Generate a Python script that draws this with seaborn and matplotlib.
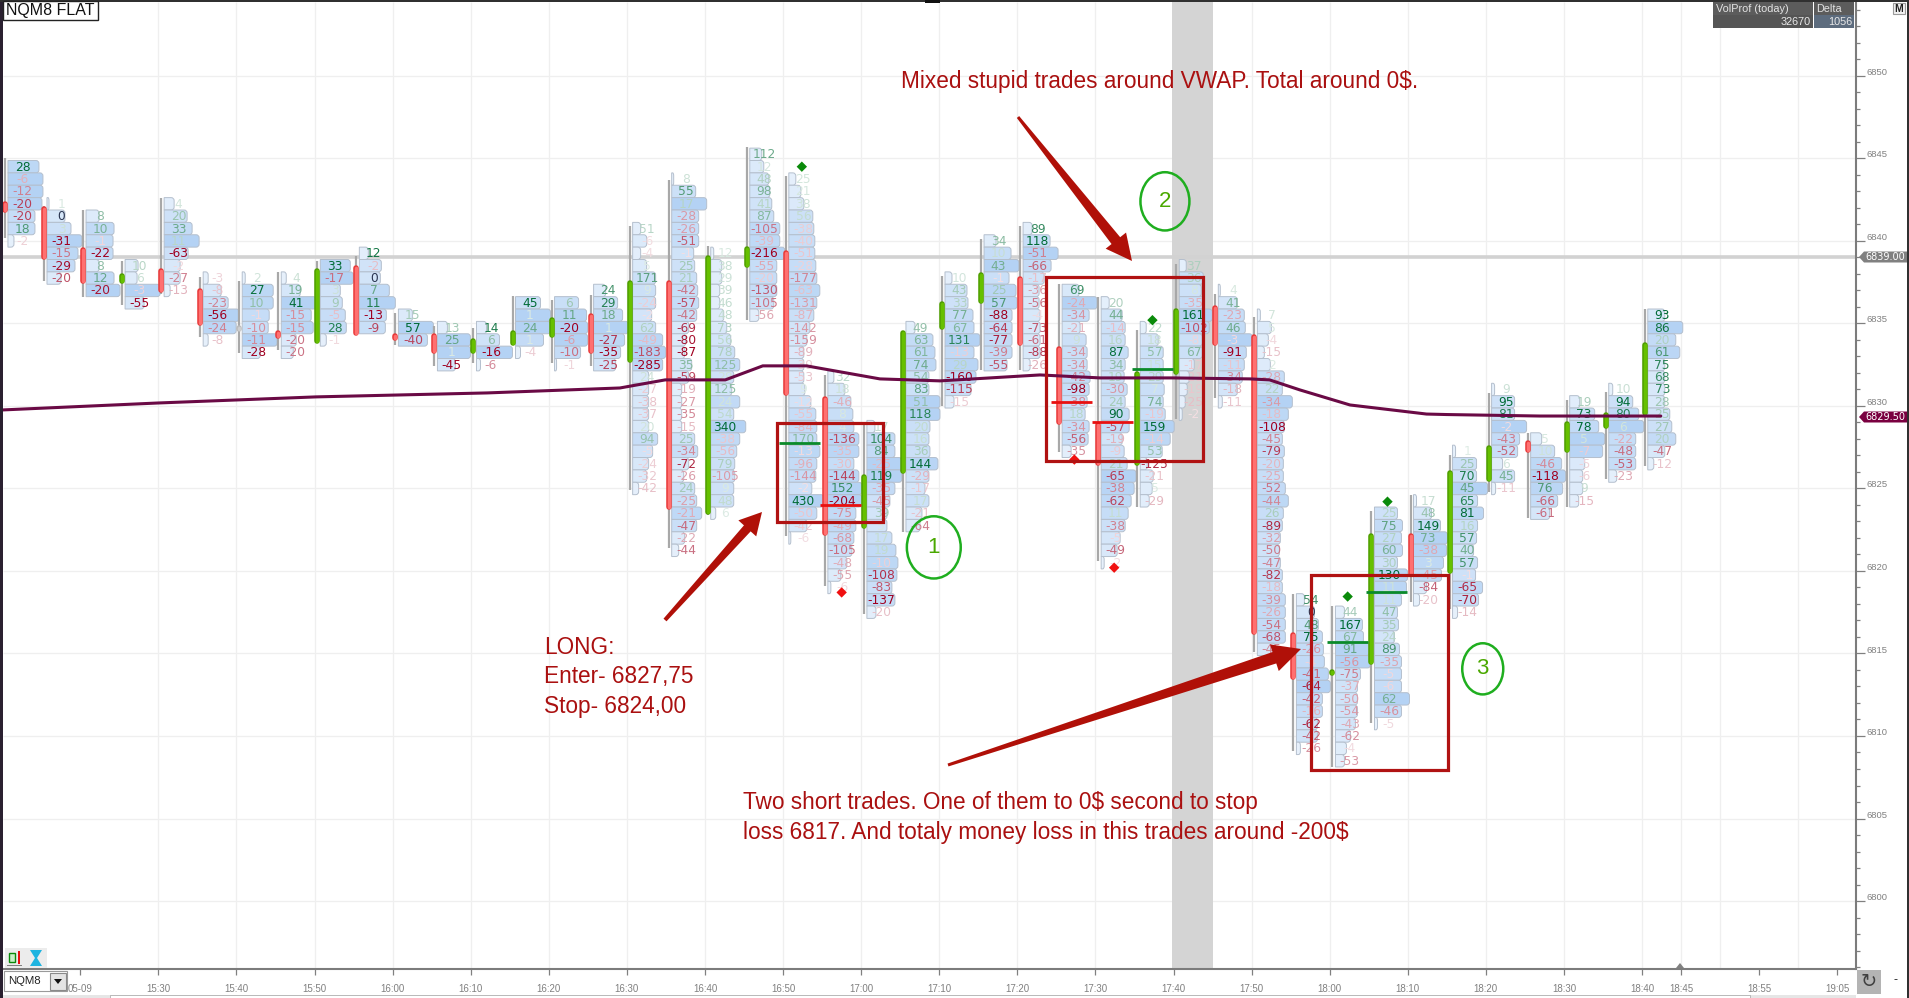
import numpy as np
import pandas as pd
import matplotlib
matplotlib.use('Agg')
import matplotlib.pyplot as plt
from matplotlib.path import Path
from matplotlib.patches import PathPatch, Rectangle, Ellipse, Polygon
import seaborn as sns

# 5 minute bars, minutes counted from 16:00
bar_minutes = list(range(-50, 165, 5))

# price of the first row in each bar
bar_tops = [6844.5, 6842.25, 6841.5, 6838.5, 6842.25, 6837.75, 6837.75, 6837.75, 6838.5, 6839.25, 6835.5,
            6834.75, 6834.75, 6836.25, 6836.25, 6837.0, 6840.75, 6843.75, 6839.25, 6845.25, 6843.75, 6831.75,
            6828.75, 6834.75, 6837.75, 6840.0, 6840.75, 6837.0, 6836.25, 6834.75, 6838.5, 6837.0, 6835.5,
            6818.25, 6817.5, 6823.5, 6824.25, 6827.25, 6831.0, 6828.0, 6830.25, 6831.0, 6835.5]

bar_open = [6842.4, 6842.1, 6839.6, 6837.4, 6838.3, 6837.1, 6834.9, 6834.6, 6833.8, 6838.5, 6834.4,
            6834.4, 6833.2, 6833.65, 6834.15, 6835.6, 6832.65, 6837.6, 6823.4, 6838.4, 6839.4, 6830.55,
            6822.6, 6825.9, 6834.66, 6836.2, 6837.86, 6833.6, 6829.0, 6826.4, 6831.9, 6836.1, 6834.36,
            6816.3, 6813.65, 6814.36, 6822.3, 6819.87, 6825.4, 6827.9, 6827.16, 6828.65, 6829.45]
bar_close = [6841.7, 6838.9, 6837.4, 6838.05, 6836.9, 6834.9, 6834.5, 6834.1, 6838.3, 6834.3, 6833.95,
             6833.2, 6834.1, 6834.6, 6835.37, 6833.2, 6837.6, 6823.7, 6839.1, 6839.65, 6830.65, 6822.15,
             6825.85, 6834.56, 6836.34, 6838.1, 6833.67, 6828.9, 6826.4, 6832.1, 6835.88, 6833.67, 6816.14,
             6813.4, 6814.05, 6822.3, 6819.67, 6826.07, 6827.6, 6827.16, 6829.05, 6829.6, 6833.87]
bar_high = [6845.0, 6842.1, 6841.9, 6838.8, 6842.6, 6837.8, 6837.6, 6838.1, 6838.8, 6839.1, 6835.65,
            6834.86, 6834.75, 6836.65, 6836.4, 6836.75, 6840.9, 6843.7, 6839.7, 6845.7, 6843.95, 6831.9,
            6828.85, 6834.56, 6837.9, 6840.1, 6840.9, 6837.4, 6836.6, 6834.6, 6838.6, 6836.8, 6835.4,
            6818.6, 6817.85, 6823.64, 6824.6, 6827.0, 6830.8, 6828.34, 6830.36, 6830.87, 6835.88]
bar_low = [6840.2, 6837.6, 6836.6, 6836.1, 6836.8, 6834.2, 6833.2, 6833.4, 6833.8, 6834.3, 6833.7,
           6832.4, 6832.6, 6833.7, 6832.6, 6832.4, 6824.9, 6821.4, 6823.4, 6835.2, 6822.15, 6819.1,
           6817.4, 6822.35, 6830.0, 6832.2, 6832.2, 6827.2, 6820.6, 6823.9, 6829.2, 6830.5, 6815.06,
           6809.1, 6808.1, 6810.8, 6818.1, 6817.7, 6824.8, 6823.2, 6823.9, 6825.6, 6826.37]

# delta printed in every row of every bar
bar_deltas = [
    [28, -6, -12, -20, -20, 18, -2],
    [1, 0, 3, -31, -15, -29, -20],
    [8, 10, -1, -22, 8, 12, -20],
    [10, 6, -3, -55],
    [4, 20, 33, 11, -63, -2, -27, -13],
    [-3, -8, -23, -56, -24, -8],
    [2, 27, 10, -1, -10, -11, -28],
    [4, 19, 41, -15, -15, -20, -20],
    [33, -17, 3, 9, -5, 28, -1],
    [12, -2, 0, 7, 11, -13, -9],
    [15, 57, -40],
    [13, 25, 1, -45],
    [14, 6, -16, -6],
    [45, 1, 24, 1, -4],
    [6, 11, -20, -6, -10, -1],
    [24, 29, 18, 1, -27, -35, -25],
    [51, -6, -4, 5, 171, 9, -24, -2, 62, -49, -183, -285, 24, -27, -38, -37, 20, 94, -5, -24, -32, -42],
    [8, 55, 17, -28, -26, -51, -1, 25, 21, -42, -57, -42, -69, -80, -87, 35, -59, -19, -27, -35, -15, 25,
     -34, -72, -26, 24, -25, -21, -47, -22, -44],
    [12, 38, 29, 39, 46, 48, 73, 56, 78, 125, 28, 125, 24, 54, 340, -38, -56, 79, -105, 9, 48, 6],
    [112, 12, 48, 98, 41, 87, -105, -39, -216, -55, -20, -130, -105, -56],
    [25, 21, 38, 56, -38, -40, -51, -28, -177, -63, -131, -87, -142, -159, -89, -39, -53, 9, -12, -55, -84,
     170, -13, -96, -144, -2, 430, -50, -42, -6],
    [32, 18, -46, 8, 4, -136, -35, -30, -144, 152, -204, -75, -49, -68, -105, -48, -55, -6],
    [17, 104, 84, -25, 119, -35, -45, 39, 5, 17, 19, -10, -108, -83, -137, -20],
    [49, 63, 61, 74, 54, 83, 51, 118, 20, 16, 36, 144, -29, -17, 17, -21, -64],
    [10, 43, 33, 77, 67, 131, -13, 29, -160, -115, -15],
    [34, 10, 43, -1, 25, 57, -88, -64, -77, -39, -55],
    [89, 118, -51, -66, -17, -36, -56, -4, -73, -61, -88, -26],
    [69, -24, -34, -21, 9, -34, -34, -42, -98, -38, 18, -34, -56, -35],
    [20, 44, -14, 16, 87, 34, 19, -30, 24, 90, -57, -19, -9, 21, -65, -38, -62, 11, -38, -5, -49, -2],
    [22, 18, 57, 15, 29, 7, 74, -19, 159, -14, 53, -125, -21, 5, -29],
    [37, 36, 8, -35, 161, -102, -8, 67, -17, -21, -19, -25, -2],
    [4, 41, -23, 46, -3, -91, -11, -34, -18, -11],
    [7, 5, -4, -15, 2, -28, 22, -34, -18, -108, -45, -79, -20, -25, -52, -44, 26, -89, -32, -50, -47, -82,
     -18, -39, -26, -54, -68, -45],
    [54, 0, 48, 75, -26, -4, -41, -64, -42, -16, -62, -42, -26],
    [44, 167, 67, 91, -56, -75, -37, -50, -54, -43, -62, -4, -53],
    [25, 75, 27, 60, 30, 130, 11, 11, 47, 35, 24, 89, -35, -5, -6, 62, -46, -5],
    [17, 48, 149, 73, -38, 3, -45, -84, -20],
    [1, 25, 70, 45, 65, 81, 16, 57, 40, 57, -1, -65, -70, -14],
    [9, 95, 81, -2, -43, -52, 6, 45, -11],
    [5, 10, -46, -118, 76, -66, -61],
    [19, 73, 78, 5, -7, -5, -6, 9, -15],
    [10, 94, 80, 6, -22, -48, -53, -23],
    [93, 86, 20, 61, 75, 68, 73, 28, 25, 27, 20, -47, -12],
]

# relative volume of every row, as read from the length of the profile cells
bar_volumes = [
    [31, 35, 35, 34, 27, 27, 6],
    [2, 18, 24, 35, 31, 28, 14],
    [13, 28, 27, 27, 13, 28, 34],
    [13, 12, 35, 19],
    [10, 23, 28, 35, 24, 16, 16, 6],
    [5, 18, 25, 36, 33, 5],
    [3, 31, 31, 27, 26, 35, 18],
    [5, 19, 35, 30, 32, 15, 12],
    [30, 33, 20, 22, 25, 26, 6],
    [9, 22, 21, 30, 36, 27, 26],
    [14, 35, 29],
    [10, 33, 33, 18],
    [10, 23, 36, 4],
    [25, 35, 35, 28, 5],
    [24, 32, 33, 33, 26, 2],
    [12, 24, 29, 35, 31, 27, 22],
    [8, 14, 8, 14, 23, 23, 23, 19, 23, 30, 33, 30, 16, 16, 16, 16, 16, 25, 20, 16, 14, 6],
    [2, 24, 35, 27, 27, 27, 22, 23, 25, 26, 27, 25, 17, 14, 13, 20, 17, 10, 10, 10, 10, 23, 26, 17, 12, 23,
     25, 30, 25, 13, 7],
    [3, 11, 11, 9, 9, 13, 16, 20, 24, 29, 23, 21, 29, 23, 35, 29, 26, 24, 24, 23, 23, 5],
    [12, 14, 19, 20, 22, 24, 30, 30, 35, 27, 27, 27, 24, 9],
    [7, 12, 15, 24, 25, 26, 26, 27, 28, 31, 28, 25, 21, 18, 15, 15, 15, 16, 22, 27, 28, 28, 31, 28, 27, 23,
     35, 28, 18, 2],
    [6, 17, 23, 25, 26, 31, 31, 26, 31, 34, 34, 28, 28, 26, 24, 19, 13, 3],
    [8, 28, 28, 35, 35, 28, 23, 20, 20, 25, 29, 31, 30, 25, 28, 9],
    [9, 27, 29, 30, 23, 23, 34, 34, 24, 23, 24, 32, 23, 19, 23, 16, 14],
    [7, 22, 23, 28, 29, 35, 29, 33, 31, 26, 9],
    [12, 27, 35, 25, 32, 33, 28, 28, 28, 28, 23],
    [9, 27, 35, 28, 21, 16, 16, 17, 17, 17, 17, 7],
    [17, 35, 27, 18, 24, 25, 25, 28, 27, 25, 23, 27, 26, 9],
    [8, 21, 24, 24, 27, 24, 23, 26, 24, 28, 28, 21, 23, 26, 35, 33, 30, 27, 24, 19, 16, 3],
    [6, 18, 23, 23, 23, 24, 23, 25, 34, 30, 22, 7, 13, 12, 9],
    [7, 24, 22, 25, 33, 30, 23, 23, 15, 10, 8, 6, 3],
    [2, 19, 26, 27, 34, 28, 26, 24, 19, 4],
    [3, 14, 11, 7, 13, 27, 25, 35, 31, 27, 25, 27, 26, 26, 28, 31, 26, 25, 23, 22, 23, 25, 25, 28, 28, 28,
     28, 18],
    [8, 18, 22, 26, 27, 28, 32, 34, 26, 26, 21, 21, 4],
    [9, 27, 28, 34, 35, 25, 22, 22, 22, 20, 15, 11, 9],
    [23, 28, 27, 28, 23, 33, 32, 27, 23, 24, 20, 25, 27, 27, 27, 35, 27, 3],
    [3, 18, 27, 34, 33, 30, 28, 13, 6],
    [3, 24, 24, 35, 25, 31, 25, 24, 21, 25, 23, 30, 26, 5],
    [3, 23, 23, 35, 28, 26, 11, 23, 4],
    [11, 24, 31, 35, 32, 27, 19],
    [10, 25, 29, 35, 33, 15, 13, 13, 9],
    [4, 24, 30, 35, 27, 27, 27, 8],
    [17, 35, 28, 32, 17, 17, 17, 17, 22, 24, 28, 17, 6],
]

vwap_minutes = [-49.9, -30.05, -9.8, 12.1, 29.1, 34.9, 42.6, 47.4, 53.0, 62.4, 70.1, 82.9, 90.6, 99.9, 109.8,
                112.3, 116.2, 122.6, 132.4, 135.0, 146.9, 162.4]
vwap_prices = [6829.76, 6830.18, 6830.55, 6830.79, 6831.09, 6831.58, 6831.58, 6832.43, 6832.43, 6831.64,
               6831.52, 6831.88, 6831.7, 6831.7, 6831.64, 6831.58, 6830.97, 6830.06, 6829.51, 6829.48,
               6829.39, 6829.39]

signal_minutes = [52.4, 57.5, 87.3, 92.4, 97.3, 127.4, 122.3]
signal_prices = [6844.5, 6818.7, 6826.75, 6820.2, 6835.2, 6824.2, 6818.45]
signal_kinds = ['up', 'down', 'down', 'down', 'up', 'up', 'up']

# entry ticks next to the bars: start minute, price, colour key
entry_minutes = [49.5, 54.7, 84.3, 89.6, 94.7, 119.6, 124.6]
entry_prices = [6827.77, 6824.0, 6830.26, 6829.0, 6832.25, 6815.7, 6818.7]
entry_sides = ['g', 'r', 'r', 'r', 'g', 'g', 'g']

tick_minutes = [-40, -30, -20, -10, 0, 10, 20, 30, 40, 50, 60, 70, 80, 90, 100, 110, 120, 130, 140, 150, 160,
                165, 175, 185]
tick_labels = ['05-09', '15:30', '15:40', '15:50', '16:00', '16:10', '16:20', '16:30', '16:40', '16:50', '17:00',
               '17:10', '17:20', '17:30', '17:40', '17:50', '18:00', '18:10', '18:20', '18:30', '18:40',
               '18:45', '18:55', '19:05']
grid_minutes = [-30, -20, -10, 0, 10, 20, 30, 40, 50, 60, 70, 80, 90, 100, 110, 120, 130, 140, 150, 160, 165,
                170, 180]
price_labels = [6800, 6805, 6810, 6815, 6820, 6825, 6830, 6835, 6840, 6845, 6850]

box_minutes = [(49.2, 62.8), (83.65, 103.75), (117.6, 135.1)]
box_prices = [(6822.95, 6828.97), (6826.66, 6837.84), (6807.93, 6819.73)]

circle_minutes = [69.3, 98.9, 139.6]
circle_prices = [6821.43, 6842.4, 6814.07]
circle_widths = [6.9, 6.27, 5.25]
circle_heights = [3.77, 3.53, 3.1]
circle_labels = ['1', '2', '3']

W, H = 1909, 998
X_PER_PX = 1 / 7.81
Y_PER_PX = 1 / 16.5
RED_NOTE = '#aa1010'
NOTE_SIZE = 16.3

sns.set_theme(style='white')
plt.rcParams['font.family'] = ['Liberation Sans', 'DejaVu Sans']

fig = plt.figure(figsize=(W / 100, H / 100), dpi=100, facecolor='white')
ax = fig.add_axes([3 / W, 1 - 969 / H, (1856 - 3) / W, (969 - 2) / H])
ax.set_xlim(-49.9, 187.4)
ax.set_ylim(6795.88, 6854.48)
ax.set_facecolor('white')


def fx(px):
    return px / W


def fy(py):
    return 1 - py / H


def blend(color, amount):
    c = np.array(matplotlib.colors.to_rgb(color))
    return tuple(1 - (1 - c) * amount)


def cell_path(left, right, top, bottom):
    # square on the left, rounded on the right
    rx = min(3 * X_PER_PX, (right - left) / 2)
    ry = 3 * Y_PER_PX
    verts = [(left, bottom), (right - rx, bottom), (right, bottom), (right, bottom + ry), (right, top - ry),
             (right, top), (right - rx, top), (left, top), (left, bottom)]
    codes = [Path.MOVETO, Path.LINETO, Path.CURVE3, Path.CURVE3, Path.LINETO, Path.CURVE3, Path.CURVE3,
             Path.LINETO, Path.CLOSEPOLY]
    return Path(verts, codes)


# background: grid, grey band, old VWAP level
ax.vlines(grid_minutes, 6795.88, 6854.48, color='#efefef', lw=0.9, zorder=0.5)
ax.hlines(price_labels, -49.9, 187.4, color='#efefef', lw=0.9, zorder=0.5)
ax.axvspan(99.8, 105, color='#d4d4d4', lw=0, zorder=0.7)
ax.hlines(6839, -49.9, 187.4, color='#d2d2d2', lw=2.6, zorder=0.8)

# footprint cells
for minute, top, deltas, volumes in zip(bar_minutes, bar_tops, bar_deltas, bar_volumes):
    left = minute + 0.35 + 3 * X_PER_PX
    widest = max(volumes)
    largest = max(abs(d) for d in deltas)
    for row, (delta, volume) in enumerate(zip(deltas, volumes)):
        price = top - 0.75 * row
        share = volume / widest
        fill = blend('#b4d2f4', 0.3 + 0.7 * share ** 1.6)
        ax.add_patch(PathPatch(cell_path(left, left + volume * X_PER_PX, price + 0.375, price - 0.375),
                               facecolor=fill, edgecolor='#b4bfcd', lw=0.7, zorder=2))
        strength = 0.12 + 0.88 * abs(delta) / largest
        if delta > 0:
            color = blend('#006b35', strength)
        elif delta < 0:
            color = blend('#a00020', strength)
        else:
            color = '#2a3550'
        ax.text(minute + 0.35 + 17.5 * X_PER_PX, price - 0.03, str(delta), color=color, fontsize=8.8, ha='center',
                va='center', family='DejaVu Sans', zorder=3)

# wicks and candle bodies
candle_x = np.array(bar_minutes) + 0.35
ax.vlines(candle_x, bar_low, bar_high, color='#a8a8a8', lw=1.6, zorder=3.2)
for x, o, c in zip(candle_x, bar_open, bar_close):
    if abs(o - c) < 0.45 and x == candle_x[6]:
        edge, body = '#bcbcbc', '#cfcfcf'
    elif c >= o:
        edge, body = '#4f9f00', '#66c000'
    else:
        edge, body = '#e83a3a', '#ff7070'
    inset = 2.5 * Y_PER_PX
    lo, hi = min(o, c) + inset, max(o, c) - inset
    if hi < lo:
        lo = hi = (o + c) / 2
    ax.vlines(x, lo, hi, color=edge, lw=4.0, capstyle='round', zorder=3.4)
    ax.vlines(x, lo, hi, color=body, lw=2.5, capstyle='round', zorder=3.5)

# VWAP
vwap = pd.DataFrame({'minute': vwap_minutes, 'price': vwap_prices})
sns.lineplot(data=vwap, x='minute', y='price', color='#6a0a45', lw=2.2, ax=ax, zorder=4, legend=False,
             errorbar=None, estimator=None)

# signal diamonds
signals = pd.DataFrame({'minute': signal_minutes, 'price': signal_prices, 'kind': signal_kinds})
sns.scatterplot(data=signals, x='minute', y='price', hue='kind', palette={'up': '#0a8a0a', 'down': '#f01010'},
                marker='D', s=28, linewidth=0, ax=ax, zorder=4.5, legend=False)

# entry ticks
for start, price, side in zip(entry_minutes, entry_prices, entry_sides):
    ax.hlines(price, start, start + 5.25, color='#0a8a2a' if side == 'g' else '#e81010', lw=2.0, zorder=4.6)

# note boxes
for (x0, x1), (y0, y1) in zip(box_minutes, box_prices):
    ax.add_patch(Rectangle((x0, y0), x1 - x0, y1 - y0, fill=False, edgecolor='#b01212', lw=2.3, zorder=5))

for x, y, w, h, label_text in zip(circle_minutes, circle_prices, circle_widths, circle_heights, circle_labels):
    ax.add_patch(Ellipse((x, y), w, h, fill=False, edgecolor='#1fae1f', lw=1.8, zorder=5))
    ax.text(x, y, label_text, color='#4aa800', fontsize=16, ha='center', va='center', zorder=5)

# axes and ticks
ax.set_xlabel('')
ax.set_ylabel('')
ax.set_xticks(tick_minutes)
ax.set_xticklabels(tick_labels)
ax.yaxis.tick_right()
ax.yaxis.set_major_locator(matplotlib.ticker.MultipleLocator(5))
ax.yaxis.set_minor_locator(matplotlib.ticker.MultipleLocator(1))
ax.tick_params(axis='x', which='major', bottom=True, length=4, width=0.9, color='#808080', labelcolor='#808080',
               labelsize=7, pad=7)
ax.tick_params(axis='y', which='major', right=True, length=6.5, width=0.9, color='#808080', labelright=False)
ax.tick_params(axis='y', which='minor', right=True, length=3, width=0.9, color='#808080')
# the price labels sit a little above their ticks
for price in price_labels:
    ax.annotate(str(price), xy=(1, price), xycoords=('axes fraction', 'data'), xytext=(7.8, 2.5),
                textcoords='offset points', va='center', ha='left', color='#808080', fontsize=6.8,
                annotation_clip=False)
for side in ['top', 'left']:
    ax.spines[side].set_visible(False)
for side in ['right', 'bottom']:
    ax.spines[side].set_color('#7c7c7c')
    ax.spines[side].set_linewidth(1.5)


def box(x0, y0, x1, y1, **kw):
    fig.add_artist(Rectangle((fx(x0), fy(y1)), (x1 - x0) / W, (y1 - y0) / H, transform=fig.transFigure, **kw))


def label(x, y, text, **kw):
    kw.setdefault('va', 'center')
    fig.text(fx(x), fy(y), text, **kw)


def arrow(tail, tip, tail_w, neck_w, head_w, head_len):
    tail, tip = np.array(tail, float), np.array(tip, float)
    d = (tip - tail) / np.linalg.norm(tip - tail)
    n = np.array([-d[1], d[0]])
    neck = tip - d * head_len
    pts = [tail + n * tail_w / 2, neck + n * neck_w / 2, neck + n * head_w / 2, tip,
           neck - n * head_w / 2, neck - n * neck_w / 2, tail - n * tail_w / 2]
    pts = [(fx(p[0]), fy(p[1])) for p in pts]
    fig.add_artist(Polygon(pts, closed=True, transform=fig.transFigure, facecolor='#b01008', edgecolor='none'))


arrow((665, 620), (762, 512), 4, 9, 24, 22)
arrow((1018, 117), (1132, 261), 3, 11, 26, 26)
arrow((948, 765), (1301, 649), 3, 12, 28, 28)

# notes
label(901, 81.5, 'Mixed stupid trades around VWAP. Total around 0$.', color=RED_NOTE, fontsize=NOTE_SIZE)
label(544, 647, 'LONG:', color=RED_NOTE, fontsize=NOTE_SIZE)
label(544, 677, 'Enter- 6827,75', color=RED_NOTE, fontsize=NOTE_SIZE)
label(544, 707, 'Stop- 6824,00', color=RED_NOTE, fontsize=NOTE_SIZE)
label(743, 803, 'Two short trades. One of them to 0$ second to stop', color=RED_NOTE, fontsize=NOTE_SIZE)
label(743, 832, 'loss 6817. And totaly money loss in this trades around -200$', color=RED_NOTE, fontsize=NOTE_SIZE)

# price flags on the right
for y, text, color in [(257, '6839.00', '#808080'), (417, '6829.50', '#7a0040')]:
    fig.add_artist(Polygon([(fx(1859), fy(y)), (fx(1864), fy(y - 5.5)), (fx(1907), fy(y - 5.5)),
                            (fx(1907), fy(y + 5.5)), (fx(1864), fy(y + 5.5))], closed=True,
                           transform=fig.transFigure, facecolor=color, edgecolor='none'))
    label(1885.5, y, text, color='white', fontsize=7, ha='center', family='DejaVu Sans')

# window chrome
box(0, 0, 3, H, facecolor='#2a2030', edgecolor='none')
box(0, 0, W, 1.5, facecolor='#303030', edgecolor='none')
box(1907, 0, W, H, facecolor='#303030', edgecolor='none')
box(925, 0, 940, 2.5, facecolor='#111111', edgecolor='none')
box(3, 1, 98, 20, facecolor='white', edgecolor='#222222', lw=1)
label(6, 11, 'NQM8 FLAT', color='#111111', fontsize=11.5)

box(1713, 2, 1813, 15, facecolor='#5c5c5c', edgecolor='none')
box(1813.7, 2, 1854, 15, facecolor='#5c5c5c', edgecolor='none')
box(1713, 15.5, 1813, 28, facecolor='#555555', edgecolor='none')
box(1813.7, 15.5, 1854, 28, facecolor='#5d6c7e', edgecolor='none')
label(1716, 9, 'VolProf (today)', color='#e4e4e4', fontsize=7.8)
label(1816, 9, 'Delta', color='#e4e4e4', fontsize=7.8)
label(1811, 22, '32670', color='#e8e8e8', fontsize=7.8, ha='right')
label(1852, 22, '1056', color='#e8e8e8', fontsize=7.8, ha='right')
box(1893, 3, 1905, 14, facecolor='#f0f0f0', edgecolor='#9a9a9a', lw=0.8)
label(1899, 8.5, 'M', color='#222222', fontsize=7.5, ha='center', fontweight='bold')

# chart type icons
box(5, 948, 47, 968, facecolor='#ececec', edgecolor='none')
box(9, 953, 15, 962, facecolor='#c8f0c8', edgecolor='#0a8a0a', lw=1)
box(18, 951, 20, 964, facecolor='#e81010', edgecolor='none')
box(7, 964.5, 22, 965.5, facecolor='#808080', edgecolor='none')
fig.add_artist(Polygon([(fx(30), fy(950)), (fx(42), fy(950)), (fx(37), fy(958)), (fx(42), fy(966)), (fx(30), fy(966)),
                        (fx(35), fy(958))], closed=True, transform=fig.transFigure, facecolor='#1eb4e0',
                       edgecolor='none'))

box(4, 971, 67, 991, facecolor='white', edgecolor='#9a9a9a', lw=0.8)
box(50, 973, 66, 990, facecolor='#e4e4e4', edgecolor='#8a8a8a', lw=0.8)
label(8, 981, 'NQM8', color='#222222', fontsize=8.2)
fig.add_artist(Polygon([(fx(54), fy(979)), (fx(62), fy(979)), (fx(58), fy(984))], closed=True,
                       transform=fig.transFigure, facecolor='#111111', edgecolor='none'))

box(1857, 970, 1881, 994, facecolor='#b4b4b4', edgecolor='none')
label(1869, 981, '\u21bb', color='#404040', fontsize=14, ha='center', family='DejaVu Sans')
label(1895, 980, '-', color='#222222', fontsize=9, ha='center')
fig.add_artist(Polygon([(fx(1680), fy(963)), (fx(1684), fy(968)), (fx(1676), fy(968))], closed=True,
                       transform=fig.transFigure, facecolor='#808080', edgecolor='none'))
box(3, 995, 1856, 998, facecolor='#e6e6e6', edgecolor='none')
box(110, 995, 1750, 998, facecolor='white', edgecolor='#b0b0b0', lw=0.6)

fig.savefig('out.png', dpi=100)
